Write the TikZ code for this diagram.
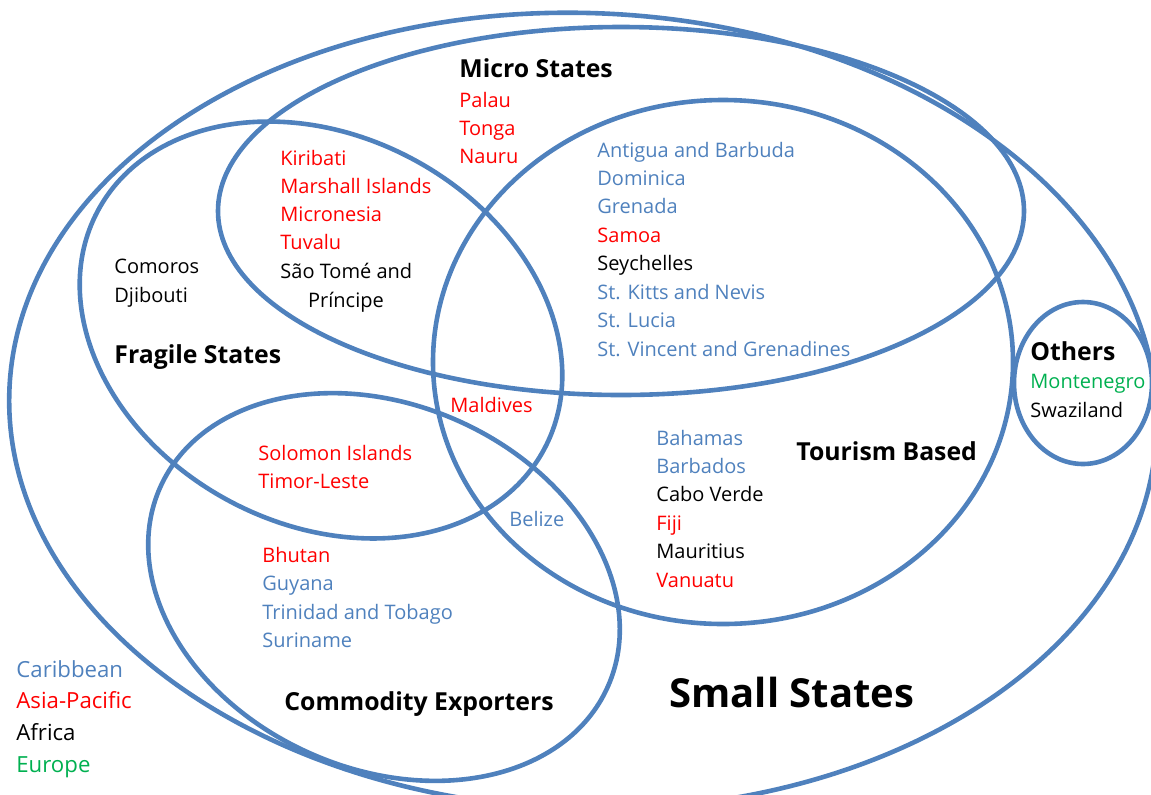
\documentclass[tikz,border=0pt]{standalone}
\usepackage{fontspec}
\setmainfont{Open Sans}
\usetikzlibrary{shapes.geometric}
\definecolor{setblue}{RGB}{79,129,189}
\definecolor{carib}{RGB}{79,129,189}
\definecolor{apac}{RGB}{255,0,0}
\definecolor{afr}{RGB}{0,0,0}
\definecolor{euro}{RGB}{0,176,80}

\begin{document}
\begin{tikzpicture}[x=0.5pt, y=-0.5pt,
    set/.style={ellipse, draw=setblue, line width=2.3pt, inner sep=0pt},
    item/.style={anchor=base west, inner sep=0pt, font=\fontsize{10}{14}\selectfont},
    title/.style={anchor=base west, inner sep=0pt, font=\fontsize{12.4}{15}\selectfont\bfseries},
    legend/.style={anchor=base west, inner sep=0pt, font=\fontsize{11.1}{16}\selectfont}]
    \useasboundingbox (0,0) rectangle (1151,794);

    % the sets
    \node[set, minimum width=574pt, minimum height=398pt, rotate=-2] (small) at (583,411) {};
    \node[set, minimum width=403pt, minimum height=184pt] (micro) at (621,211) {};
    \node[set, minimum width=290pt, minimum height=262pt] (tourism) at (723,362) {};
    \node[set, minimum width=253pt, minimum height=194pt, rotate=-28] (fragile) at (321,330) {};
    \node[set, minimum width=245pt, minimum height=182pt, rotate=-24] (commodity) at (384,587) {};
    \node[set, minimum width=69pt, minimum height=81pt] (others) at (1083,383) {};

    % micro states only
    \node[title] (microlbl) at (459,77) {Micro States};
    \foreach \txt [count=\i from 0] in {Palau,Tonga,Nauru}
        \node[item, text=apac] (micro\i) at (459,107+28.3*\i) {\txt};

    % micro and fragile
    \foreach \txt [count=\i from 0] in {Kiribati,Marshall Islands,Micronesia,Tuvalu}
        \node[item, text=apac] (mf\i) at (280,165+28.2*\i) {\txt};
    \node[item] (stp) at (280,278) {São Tomé and};
    \node[item, anchor=base] (stp2) at (346,307) {Príncipe};

    % fragile only
    \node[item] (comoros) at (114,273) {Comoros};
    \node[item] (djibouti) at (114,302) {Djibouti};
    \node[title] (fragilelbl) at (114,363) {Fragile States};

    % micro and tourism
    \foreach \txt/\col [count=\i from 0] in {Antigua and Barbuda/carib,Dominica/carib,Grenada/carib,
        Samoa/apac,Seychelles/afr,St. Kitts and Nevis/carib,St. Lucia/carib,St. Vincent and Grenadines/carib}
        \node[item, text=\col] (mt\i) at (597,157+28.43*\i) {\txt};

    \node[item, text=apac] (maldives) at (450,412) {Maldives};
    \node[item, text=apac] (solomon) at (258,460) {Solomon Islands};
    \node[item, text=apac] (timor) at (258,488) {Timor-Leste};
    \node[item, text=carib] (belize) at (509,526) {Belize};

    % tourism only
    \foreach \txt/\col [count=\i from 0] in {Bahamas/carib,Barbados/carib,Cabo Verde/afr,
        Fiji/apac,Mauritius/afr,Vanuatu/apac}
        \node[item, text=\col] (tour\i) at (656,445+28.4*\i) {\txt};
    \node[title] (tourismlbl) at (796,460) {Tourism Based};

    % others
    \node[title] (otherslbl) at (1030,360) {Others};
    \node[item, text=euro] (montenegro) at (1030,388) {Montenegro};
    \node[item] (swaziland) at (1030,417) {Swaziland};

    % commodity exporters only
    \foreach \txt/\col [count=\i from 0] in {Bhutan/apac,Guyana/carib,Trinidad and Tobago/carib,Suriname/carib}
        \node[item, text=\col] (comm\i) at (262,562+28.6*\i) {\txt};
    \node[title] (commoditylbl) at (284,710) {Commodity Exporters};

    \node[title, font=\fontsize{20}{24}\selectfont\bfseries] (smalllbl) at (669,707) {Small States};

    % legend
    \foreach \txt/\col [count=\i from 0] in {Caribbean/carib,Asia-Pacific/apac,Africa/afr,Europe/euro}
        \node[legend, text=\col] (key\i) at (16,677+31.7*\i) {\txt};
\end{tikzpicture}
\end{document}
